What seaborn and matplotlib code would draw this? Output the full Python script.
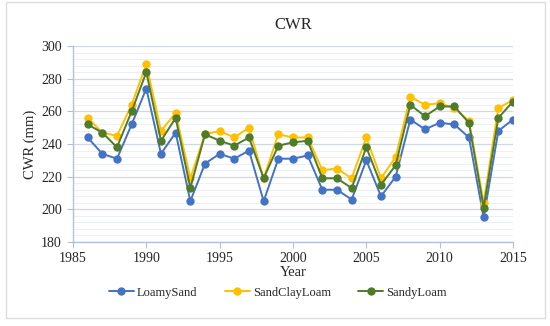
import numpy as np
import pandas as pd
import matplotlib
matplotlib.use('Agg')
import matplotlib.pyplot as plt
from matplotlib.patches import Rectangle
from matplotlib.ticker import MultipleLocator
import seaborn as sns

anos = list(range(1986, 2016))
loamy_sand = [244, 234, 231, 252, 274, 234, 247, 205, 228, 234, 231, 236, 205, 231, 231, 233,
              212, 212, 206, 230, 208, 220, 255, 249, 253, 252, 244, 195, 248, 255]
sand_clay_loam = [256, 247, 245, 264, 289, 248, 259, 219, 246, 248, 244, 250, 219, 246, 244, 244,
                  224, 225, 219, 244, 219, 232, 269, 264, 265, 262, 254, 204, 262, 267]
sandy_loam = [252, 247, 238, 260, 284, 242, 256, 213, 246, 242, 239, 244, 219, 239, 241, 242,
              219, 219, 213, 238, 215, 227, 264, 257, 263, 263, 253, 201, 256, 266]
series = ['LoamySand', 'SandClayLoam', 'SandyLoam']
cores = ['#4472C4', '#FFC000', '#4F7B2B']

df = pd.DataFrame({
    'Year': anos * 3,
    'CWR': loamy_sand + sand_clay_loam + sandy_loam,
    'Solo': [series[0]] * len(anos) + [series[1]] * len(anos) + [series[2]] * len(anos),
})

sns.set_style('white')
plt.rcParams['font.family'] = ['Liberation Serif', 'DejaVu Serif']

fig = plt.figure(figsize=(5.5, 3.26), dpi=100)
ax = fig.add_axes([0.1327, 0.2577, 0.8, 0.601])

sns.lineplot(data=df, x='Year', y='CWR', hue='Solo', palette=cores,
             marker='o', markersize=6, markeredgewidth=0, linewidth=1.4, ax=ax)

ax.set_xlim(1985, 2015)
ax.set_ylim(180, 300)
ax.xaxis.set_major_locator(MultipleLocator(5))
ax.yaxis.set_major_locator(MultipleLocator(20))
ax.yaxis.set_minor_locator(MultipleLocator(4))
ax.grid(which='major', axis='y', color='#d0d7e5', linewidth=0.9)
ax.grid(which='minor', axis='y', color='#eceff5', linewidth=0.7)
ax.set_axisbelow(True)
for s in ['top', 'right']:
    ax.spines[s].set_visible(False)
for s in ['left', 'bottom']:
    ax.spines[s].set_color('#b4c0d8')
    ax.spines[s].set_linewidth(1)
ax.tick_params(axis='x', which='major', bottom=True, length=4, color='#b4c0d8', labelsize=10, pad=3)
ax.tick_params(axis='y', which='both', left=False, labelsize=10, pad=4)
ax.tick_params(axis='y', which='major', left=True, length=4, color='#b4c0d8')

ax.set_xlabel('Year', fontsize=10.5, labelpad=1)
ax.set_ylabel('CWR (mm)', fontsize=10.5, labelpad=3)
ax.set_title('CWR', fontsize=12, pad=12)

h, l = ax.get_legend_handles_labels()
ax.get_legend().remove()
fig.legend(h, l, loc='upper center', bbox_to_anchor=(0.505, 0.155), ncol=3, frameon=False,
           fontsize=9, handlelength=2.0, columnspacing=2.2, handletextpad=0.25)

fig.patches.append(Rectangle((0.011, 0.025), 0.98, 0.97, transform=fig.transFigure,
                             fill=False, edgecolor='#dcdcdc', linewidth=1))

fig.savefig('out.png', dpi=100)
